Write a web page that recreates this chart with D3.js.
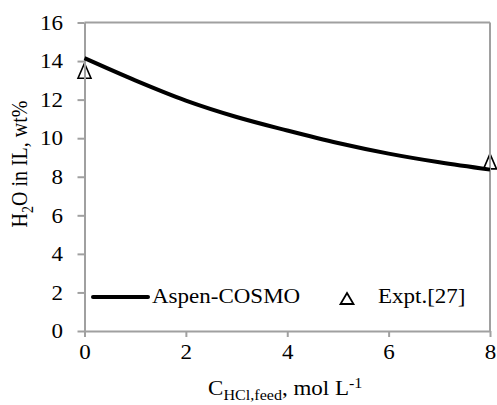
<!DOCTYPE html>
<html>
<head>
<meta charset="utf-8">
<script src="https://cdn.jsdelivr.net/npm/d3@7"></script>
<style>
  body { margin: 0; background: #fff; }
</style>
</head>
<body>
<div id="chart"></div>
<script>
// data
var modelX = [0, 1, 2, 3, 4, 5, 6, 7, 8];
var modelY = [14.15, 13.0, 11.95, 11.1, 10.4, 9.75, 9.2, 8.75, 8.37];
var exptX = [0, 8];
var exptY = [13.5, 8.8];
var xTicks = [0, 2, 4, 6, 8];
var yTicks = [0, 2, 4, 6, 8, 10, 12, 14, 16];
var seriesNames = ["Aspen-COSMO", "Expt.[27]"];

var svgWidth = 497;
var svgHeight = 405;
var margin = { top: 22.5, right: 7, bottom: 74, left: 84.5 };
var width = svgWidth - margin.left - margin.right;
var height = svgHeight - margin.top - margin.bottom;
var sx = 1.15; // the text in the picture is a bit wider than normal
var axisColor = "#a0a0a0";
var fontName = "Liberation Serif";

var svg = d3.select("#chart").append("svg")
    .attr("width", svgWidth)
    .attr("height", svgHeight)
    .attr("font-family", fontName);

var g = svg.append("g")
    .attr("transform", `translate(${margin.left},${margin.top})`);

var x = d3.scaleLinear().domain([0, 8]).range([0, width]);
var y = d3.scaleLinear().domain([0, 16]).range([height, 0]);

function tri(w, h) { // open triangle marker
    return `M0,${-h / 2}L${w / 2},${h / 2}L${-w / 2},${h / 2}Z`;
}

// experimental points (under the axes, like the original)
g.selectAll(".expt")
    .data(exptX.map((d, i) => [d, exptY[i]]))
    .enter().append("path")
    .attr("class", "expt")
    .attr("d", tri(13, 15))
    .attr("transform", d => `translate(${x(d[0])},${y(d[1])})`)
    .attr("fill", "#fff")
    .attr("stroke", "#000")
    .attr("stroke-width", 1.6);

// frame top and right
g.append("line").attr("x1", 0).attr("x2", width).attr("y1", 0).attr("y2", 0)
    .attr("stroke", axisColor).attr("stroke-width", 2);
g.append("line").attr("x1", width).attr("x2", width).attr("y1", 0).attr("y2", height)
    .attr("stroke", axisColor).attr("stroke-width", 2);

// axes
var xAxis = g.append("g")
    .attr("transform", `translate(0,${height})`)
    .call(d3.axisBottom(x).tickValues(xTicks).tickSize(6).tickSizeOuter(0).tickFormat(d3.format("d")));
var yAxis = g.append("g")
    .call(d3.axisLeft(y).tickValues(yTicks).tickSize(7).tickSizeOuter(0).tickFormat(d3.format("d")));

[xAxis, yAxis].forEach(function(a) {
    a.attr("font-family", fontName).attr("font-size", 20);
    a.select(".domain").attr("stroke", axisColor).attr("stroke-width", 2);
    a.selectAll(".tick line").attr("stroke", axisColor).attr("stroke-width", 2);
    a.selectAll("text").attr("font-family", fontName).attr("font-size", 20).attr("fill", "#000");
});
xAxis.selectAll("text")
    .attr("y", 0).attr("dy", 0)
    .attr("transform", `translate(0,28) scale(${sx},1)`);
yAxis.selectAll("text")
    .attr("x", 0).attr("dy", "0.34em")
    .attr("transform", `translate(-21.5,0) scale(${sx},1)`);

// model curve
var line = d3.line()
    .x(d => x(d[0]))
    .y(d => y(d[1]))
    .curve(d3.curveMonotoneX);
g.append("path")
    .datum(modelX.map((d, i) => [d, modelY[i]]))
    .attr("d", line)
    .attr("fill", "none")
    .attr("stroke", "#000")
    .attr("stroke-width", 4);

// legend
var legY = 297;
svg.append("line").attr("x1", 93).attr("x2", 148).attr("y1", legY).attr("y2", legY)
    .attr("stroke", "#000").attr("stroke-width", 4).attr("stroke-linecap", "round");
svg.append("text").text(seriesNames[0]).attr("font-size", 20).attr("font-family", fontName)
    .attr("transform", `translate(152,${legY + 6}) scale(${sx},1)`);
svg.append("path").attr("d", tri(13, 11))
    .attr("transform", `translate(347,${legY + 1.5})`)
    .attr("fill", "#fff").attr("stroke", "#000").attr("stroke-width", 1.8);
svg.append("text").text(seriesNames[1]).attr("font-size", 20).attr("font-family", fontName)
    .attr("transform", `translate(378,${legY + 6}) scale(${sx},1)`);

// axis titles
var xt = svg.append("text").attr("font-size", 20).attr("font-family", fontName).attr("text-anchor", "middle")
    .attr("transform", `translate(${margin.left + width / 2 - 2},395) scale(${sx},1)`);
xt.append("tspan").text("C");
xt.append("tspan").text("HCl,feed").attr("font-size", 14).attr("dy", 5);
xt.append("tspan").text(",  mol L").attr("dy", -5);
xt.append("tspan").text("-1").attr("font-size", 14).attr("dy", -7);

var yt = svg.append("text").attr("font-size", 20).attr("font-family", fontName).attr("text-anchor", "middle")
    .attr("transform", `translate(27,164) scale(${sx},1) rotate(-90)`);
yt.append("tspan").text("H");
yt.append("tspan").text("2").attr("font-size", 14).attr("dy", 5);
yt.append("tspan").text("O in IL,  wt%").attr("dy", -5);
</script>
</body>
</html>
